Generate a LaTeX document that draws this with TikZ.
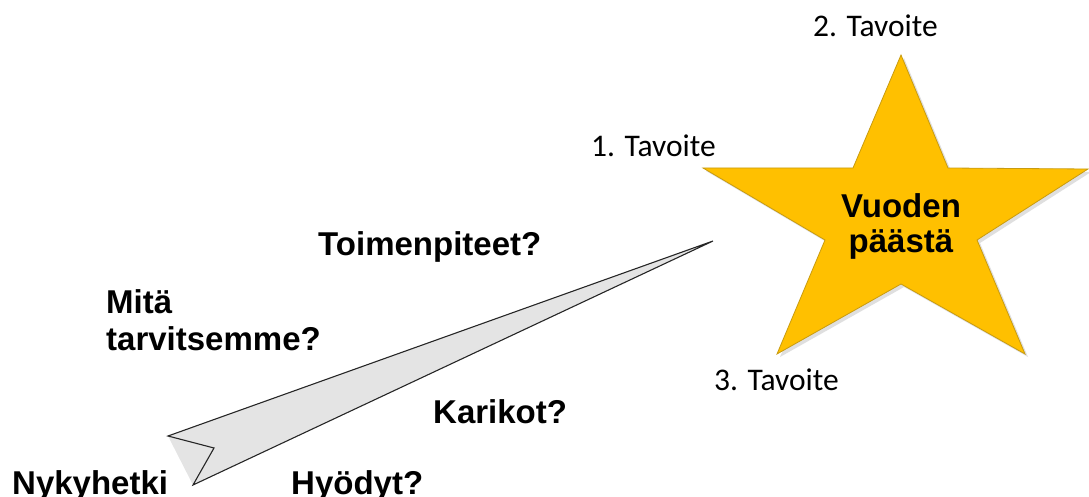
\documentclass[tikz,border=0pt]{standalone}
\usepackage{fontspec}
\setmainfont{Liberation Sans}
\newfontfamily\calib{Carlito}
\definecolor{stargold}{HTML}{FFC000}
\definecolor{staredge}{HTML}{C89B10}
\definecolor{arrowfill}{HTML}{E4E4E4}
\begin{document}
\begin{tikzpicture}[x=1pt,y=-1pt,
  boldlbl/.style={font=\fontsize{33}{36}\selectfont\bfseries, inner sep=0pt, anchor=base west},
  goallbl/.style={font=\calib\fontsize{31.5}{36}\selectfont, inner sep=0pt, anchor=base west},
  starshape/.style={fill=stargold, draw=staredge, line width=0.8pt, line join=miter},
  arrowshape/.style={draw=black!85, line width=1.1pt, line join=miter}]
\useasboundingbox (0,0) rectangle (1089,497);
% star
\coordinate (s1) at (901,55);
\coordinate (s2) at (948,168);
\coordinate (s3) at (1088,169);
\coordinate (s4) at (977,240);
\coordinate (s5) at (1025,354);
\coordinate (s6) at (901,284);
\coordinate (s7) at (777,354);
\coordinate (s8) at (825,240);
\coordinate (s9) at (703,168);
\coordinate (s10) at (853,168);
\fill[black!25, opacity=0.5] ([shift={(3,3)}]s1) -- ([shift={(3,3)}]s2) -- ([shift={(3,3)}]s3) -- ([shift={(3,3)}]s4) -- ([shift={(3,3)}]s5) -- ([shift={(3,3)}]s6) -- ([shift={(3,3)}]s7) -- ([shift={(3,3)}]s8) -- ([shift={(3,3)}]s9) -- ([shift={(3,3)}]s10) -- cycle;
\draw[starshape] (s1) -- (s2) -- (s3) -- (s4) -- (s5) -- (s6) -- (s7) -- (s8) -- (s9) -- (s10) -- cycle;
\node[font=\fontsize{33}{33}\selectfont\bfseries, inner sep=0pt, anchor=base] (v1) at (901,218) {Vuoden};
\node[font=\fontsize{33}{33}\selectfont\bfseries, inner sep=0pt, anchor=base] (v2) at (901,252) {päästä};
% arrow
\coordinate (atop) at (168,436);
\coordinate (anotch) at (214,448);
\coordinate (abot) at (193,485);
\coordinate (atip) at (713,241);
\fill[arrowfill] (atop) -- (atip) -- (abot) -- cycle;
\draw[arrowshape] (atop) -- (atip) -- (abot) -- (anotch) -- cycle;
% labels
\node[goallbl] (g2) at (813,37) {2. Tavoite};
\node[goallbl] (g1) at (591,157) {1. Tavoite};
\node[goallbl] (g3) at (714,390) {3. Tavoite};
\node[boldlbl] (t1) at (318,255) {Toimenpiteet?};
\node[boldlbl] (t2) at (106,313) {Mitä};
\node[boldlbl] (t3) at (106,350) {tarvitsemme?};
\node[boldlbl] (t4) at (433,423) {Karikot?};
\node[boldlbl] (t5) at (291,494) {Hyödyt?};
\node[boldlbl] (t6) at (12,494) {Nykyhetki};
\end{tikzpicture}
\end{document}
